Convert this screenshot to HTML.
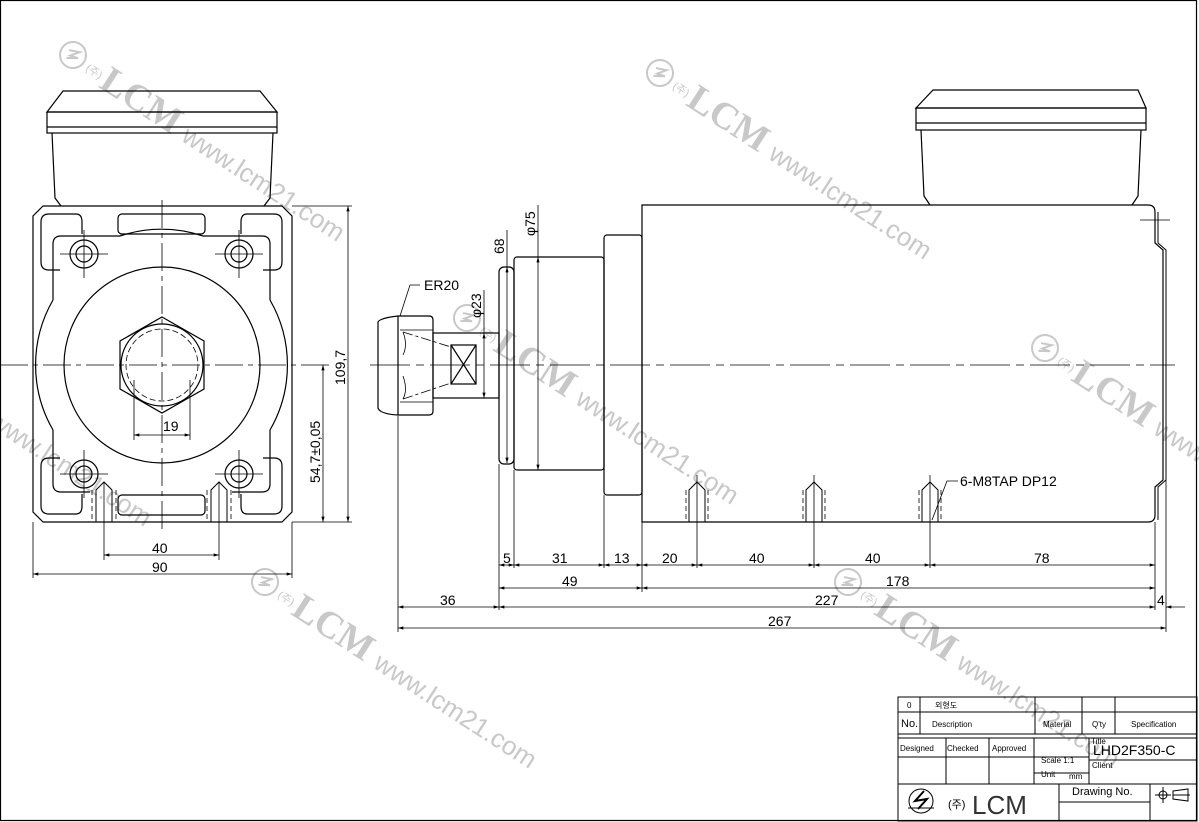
<!DOCTYPE html>
<html><head><meta charset="utf-8"><style>
html,body{margin:0;padding:0;background:#fff;}
svg{display:block;}
text{font-family:"Liberation Sans","Noto Sans CJK KR",sans-serif;fill:#000;}
</style></head><body>
<svg width="1199" height="822" viewBox="0 0 1199 822" xmlns="http://www.w3.org/2000/svg">
<defs>
<marker id="a" viewBox="0 0 10 6" refX="10" refY="3" markerWidth="8" markerHeight="4" orient="auto-start-reverse"><path d="M0,0 L10,3 L0,6z" fill="#000"/></marker>
<g id="wm" fill="#c8c8c8" stroke="none">
<circle cx="0" cy="0" r="13" fill="none" stroke="#c8c8c8" stroke-width="2"/>
<path d="M-6,-2 L4,-6 L-2,2 L6,0 L-4,6" fill="none" stroke="#c8c8c8" stroke-width="2"/>
<text x="18" y="6" font-size="11" style="fill:#c8c8c8">(주)</text>
<text x="38" y="13" font-size="38" font-weight="bold" style="fill:#c8c8c8;font-family:'Liberation Serif',serif">LCM</text>
<text x="136" y="13" font-size="26" style="fill:#c8c8c8">www.lcm21.com</text>
</g>
</defs>
<g>
<use href="#wm" transform="translate(73,55) rotate(33)"/>
<use href="#wm" transform="translate(660,73) rotate(33)"/>
<use href="#wm" transform="translate(467,318) rotate(33)"/>
<use href="#wm" transform="translate(265,582) rotate(33)"/>
<use href="#wm" transform="translate(848,582) rotate(33)"/>
<use href="#wm" transform="translate(1045,348) rotate(33)"/>
<use href="#wm" transform="translate(-120,340) rotate(33)"/>
</g>
<g fill="none" stroke="#000" stroke-width="1.2">
<rect x="0.5" y="0.5" width="1196" height="820"/>
<path d="M63,91 L260,91 L277,112 L47,112 Z"/>
<rect x="47" y="112" width="230" height="21"/>
<line x1="47" y1="127" x2="277" y2="127"/>
<path d="M52,133 L55,198 L61,206 M273,133 L270,198 L264,206"/>
<path d="M43,206 L282,206 L292,216 L292,512 L282,522 L43,522 L33,512 L33,216 Z"/>
<rect x="118" y="214" width="87" height="20" rx="4"/>
<rect x="118" y="495" width="87" height="20" rx="4"/>
<path d="M41,222 Q41,214 49,214 L76,214 Q82,214 82,222 L82,234 M41,222 L41,262 Q41,270 49,270 L60,270 M53,244 Q53,236 61,236 L120,236 M53,244 L53,300"/>
<path d="M282,222 Q282,214 274,214 L247,214 Q241,214 241,222 L241,234 M282,222 L282,262 Q282,270 274,270 L263,270 M270,244 Q270,236 262,236 L203,236 M270,244 L270,300"/>
<path d="M41,506 Q41,514 49,514 L76,514 Q82,514 82,506 L82,494 M41,506 L41,466 Q41,458 49,458 L60,458 M53,484 Q53,492 61,492 L90,492 M53,484 L53,430"/>
<path d="M282,506 Q282,514 274,514 L247,514 Q241,514 241,506 L241,494 M282,506 L282,466 Q282,458 274,458 L263,458 M270,484 Q270,492 262,492 L232,492 M270,484 L270,430"/>
<path d="M53,300 A130,130 0 0 0 53,430 M270,300 A130,130 0 0 1 270,430"/>
<path d="M120,236 A130,130 0 0 1 203,236"/>
<circle cx="162" cy="365" r="98"/>
<polygon points="162,317 204,341 204,389 162,413 120,389 120,341"/>
<circle cx="162" cy="365" r="41"/>
<circle cx="162" cy="365" r="36" stroke-dasharray="6,3" stroke-width="0.8"/>
<circle cx="84" cy="254" r="14"/><circle cx="84" cy="254" r="8"/>
<circle cx="239" cy="254" r="14"/><circle cx="239" cy="254" r="8"/>
<circle cx="84" cy="474" r="14"/><circle cx="84" cy="474" r="8"/>
<circle cx="239" cy="474" r="14"/><circle cx="239" cy="474" r="8"/>
<path d="M96,522 L96,490 L104,482 L112,490 L112,522 M211,522 L211,490 L219,482 L227,490 L227,522" stroke-width="1"/>
<path d="M92,490 L92,522 M116,490 L116,522 M207,490 L207,522 M231,490 L231,522" stroke-dasharray="5,3" stroke-width="0.8"/>
</g>
<g stroke="#000" stroke-width="0.8" fill="none">
<line x1="0" y1="365" x2="330" y2="365" stroke-dasharray="28,5,5,5"/>
<line x1="162" y1="200" x2="162" y2="530" stroke-dasharray="28,5,5,5"/>
<path d="M60,254 L108,254 M84,230 L84,278 M215,254 L263,254 M239,230 L239,278 M60,474 L108,474 M84,450 L84,498 M215,474 L263,474 M239,450 L239,498"/>
<path d="M134,380 L134,440 M190,380 L190,440"/>
<path d="M104,482 L104,560 M219,482 L219,560 M33,522 L33,578 M292,522 L292,578"/>
<path d="M292,206 L352,206 M292,522 L352,522"/>
<line x1="134" y1="435" x2="190" y2="435" marker-start="url(#a)" marker-end="url(#a)"/>
<line x1="104" y1="555" x2="219" y2="555" marker-start="url(#a)" marker-end="url(#a)"/>
<line x1="33" y1="574" x2="292" y2="574" marker-start="url(#a)" marker-end="url(#a)"/>
<line x1="323" y1="365" x2="323" y2="522" marker-start="url(#a)" marker-end="url(#a)"/>
<line x1="348" y1="206" x2="348" y2="522" marker-start="url(#a)" marker-end="url(#a)"/>
</g>
<g font-size="14">
<text x="163" y="431">19</text>
<text x="152" y="553">40</text>
<text x="152" y="572">90</text>
<text transform="translate(320,483) rotate(-90)">54,7±0,05</text>
<text transform="translate(345,385) rotate(-90)">109,7</text>
</g>
<g fill="none" stroke="#000" stroke-width="1.2">
<path d="M933,90 L1138,90 L1146,108 L916,108 Z"/>
<rect x="916" y="108" width="230" height="22"/>
<line x1="916" y1="123" x2="1146" y2="123"/>
<path d="M921,130 L924,196 L930,205 M1141,130 L1138,196 L1132,205"/>
<path d="M642,205 L1148,205 Q1155,205 1155,212 L1155,243 L1163,250 L1163,480 L1155,487 L1155,515 Q1155,522 1148,522 L642,522 Z"/>
<path d="M1158,212 L1158,243 L1166,250 L1166,480 L1158,487 L1158,520" stroke-width="1"/>
<rect x="604" y="235" width="38" height="260" rx="3"/>
<rect x="514" y="257" width="90" height="213" rx="3"/>
<rect x="499" y="267" width="15" height="197" rx="5"/>
<rect x="433" y="333" width="66" height="65"/>
<rect x="451" y="345" width="25" height="39"/>
<path d="M451,345 L476,384 M476,345 L451,384"/>
<path d="M398,316 L429,316 Q433,316 433,320 L433,411 Q433,415 429,415 L398,415"/>
<path d="M398,316 Q380,318 378,322 L378,408 Q380,414 398,415 M398,316 L398,415"/>
<path d="M400,330 L433,330 M400,402 L433,402" stroke-width="0.8"/>
<path d="M403,332 L451,347 M403,399 L451,383" stroke-dasharray="10,3,3,3" stroke-width="0.8"/>
<path d="M403,332 Q408,345 403,355 M403,376 Q408,390 403,399" stroke-width="0.8"/>
<path d="M689,522 L689,490 L697,482 L705,490 L705,522 M806,522 L806,490 L814,482 L822,490 L822,522 M922,522 L922,490 L930,482 L938,490 L938,522" stroke-width="1"/>
<path d="M686,490 L686,522 M708,490 L708,522 M803,490 L803,522 M825,490 L825,522 M919,490 L919,522 M941,490 L941,522" stroke-dasharray="5,3" stroke-width="0.8"/>
</g>
<g stroke="#000" stroke-width="0.8" fill="none">
<line x1="370" y1="365" x2="1175" y2="365" stroke-dasharray="40,6,8,6"/>
<path d="M1140,220 L1170,220 M1155,210 L1155,232"/>
<path d="M697,475 L697,568 M814,475 L814,568 M930,475 L930,568"/>
<path d="M398,416 L398,632 M499,464 L499,610 M514,470 L514,568 M604,495 L604,568 M642,522 L642,592 M1155,522 L1155,610 M1166,480 L1166,632"/>
<path d="M507,267 L507,230 M538,257 L538,205 M433,333 L488,333 M433,398 L488,398 M484,333 L484,290"/>
<line x1="507" y1="267" x2="507" y2="463" marker-start="url(#a)" marker-end="url(#a)"/>
<line x1="538" y1="257" x2="538" y2="470" marker-start="url(#a)" marker-end="url(#a)"/>
<line x1="484" y1="333" x2="484" y2="398" marker-start="url(#a)" marker-end="url(#a)"/>
<path d="M420,285 L410,285 L400,316"/>
<path d="M958,481 L947,481 L932,520"/>
<line x1="499" y1="565" x2="514" y2="565" marker-start="url(#a)" marker-end="url(#a)"/>
<line x1="514" y1="565" x2="604" y2="565" marker-start="url(#a)" marker-end="url(#a)"/>
<line x1="604" y1="565" x2="642" y2="565" marker-start="url(#a)" marker-end="url(#a)"/>
<line x1="642" y1="565" x2="697" y2="565" marker-start="url(#a)" marker-end="url(#a)"/>
<line x1="697" y1="565" x2="814" y2="565" marker-start="url(#a)" marker-end="url(#a)"/>
<line x1="814" y1="565" x2="930" y2="565" marker-start="url(#a)" marker-end="url(#a)"/>
<line x1="930" y1="565" x2="1155" y2="565" marker-start="url(#a)" marker-end="url(#a)"/>
<line x1="499" y1="588" x2="642" y2="588" marker-start="url(#a)" marker-end="url(#a)"/>
<line x1="642" y1="588" x2="1155" y2="588" marker-start="url(#a)" marker-end="url(#a)"/>
<line x1="398" y1="607" x2="499" y2="607" marker-start="url(#a)" marker-end="url(#a)"/>
<line x1="499" y1="607" x2="1155" y2="607" marker-start="url(#a)" marker-end="url(#a)"/>
<line x1="1185" y1="607" x2="1166" y2="607" marker-end="url(#a)"/>
<line x1="398" y1="628" x2="1166" y2="628" marker-start="url(#a)" marker-end="url(#a)"/>
</g>
<g font-size="14">
<text x="424" y="290">ER20</text>
<text x="960" y="486">6-M8TAP DP12</text>
<text transform="translate(504,254) rotate(-90)">68</text>
<text transform="translate(535,236) rotate(-90)">φ75</text>
<text transform="translate(481,318) rotate(-90)">φ23</text>
<text x="503" y="563">5</text>
<text x="552" y="563">31</text>
<text x="614" y="563">13</text>
<text x="662" y="563">20</text>
<text x="749" y="563">40</text>
<text x="865" y="563">40</text>
<text x="1034" y="563">78</text>
<text x="562" y="586">49</text>
<text x="886" y="586">178</text>
<text x="440" y="605">36</text>
<text x="815" y="605">227</text>
<text x="1157" y="605">4</text>
<text x="768" y="626">267</text>
</g>
<g fill="none" stroke="#000" stroke-width="1">
<rect x="898" y="697" width="299" height="124"/>
<path d="M898,712 H1197 M898,734 H1197 M898,738 H1197 M898,757 H1089 M1089,760 H1197 M1034,773 H1089 M898,784 H1197 M1059,802 H1150"/>
<path d="M920,697 V734 M1035,697 V734 M1082,697 V734 M1115,697 V734"/>
<path d="M946,738 V784 M989,738 V784 M1034,738 V784 M1089,738 V784"/>
<path d="M1059,784 V821 M1150,784 V821"/>
<circle cx="921" cy="801" r="12"/>
<path d="M924,791 L915,801 L927,799 L918,809" stroke-width="2"/>
<path d="M908,808 H934"/>
<circle cx="1163" cy="795" r="4"/><path d="M1155,795 H1171 M1163,787 V803 M1173,791 L1188,789 V801 L1173,799 Z M1173,795 H1190"/>
</g>
<g font-size="8">
<text x="907" y="708">0</text>
<text x="935" y="708">외형도</text>
<text x="901" y="727" font-size="11">No.</text>
<text x="932" y="727">Description</text>
<text x="1043" y="727">Material</text>
<text x="1092" y="727">Q'ty</text>
<text x="1131" y="727">Specification</text>
<text x="900" y="751">Designed</text>
<text x="947" y="751">Checked</text>
<text x="992" y="751">Approved</text>
<text x="1041" y="763">Scale 1:1</text>
<text x="1041" y="777">Unit</text>
<text x="1069" y="779">mm</text>
<text x="1091" y="744">Title</text>
<text x="1093" y="755" font-size="14">LHD2F350-C</text>
<text x="1092" y="768">Client</text>
<text x="1072" y="795" font-size="11">Drawing No.</text>
<text x="948" y="808" font-size="11">(주)</text>
<text x="972" y="814" font-size="26" font-weight="300" style="fill:#333">LCM</text>
</g>
</svg>
</body></html>
